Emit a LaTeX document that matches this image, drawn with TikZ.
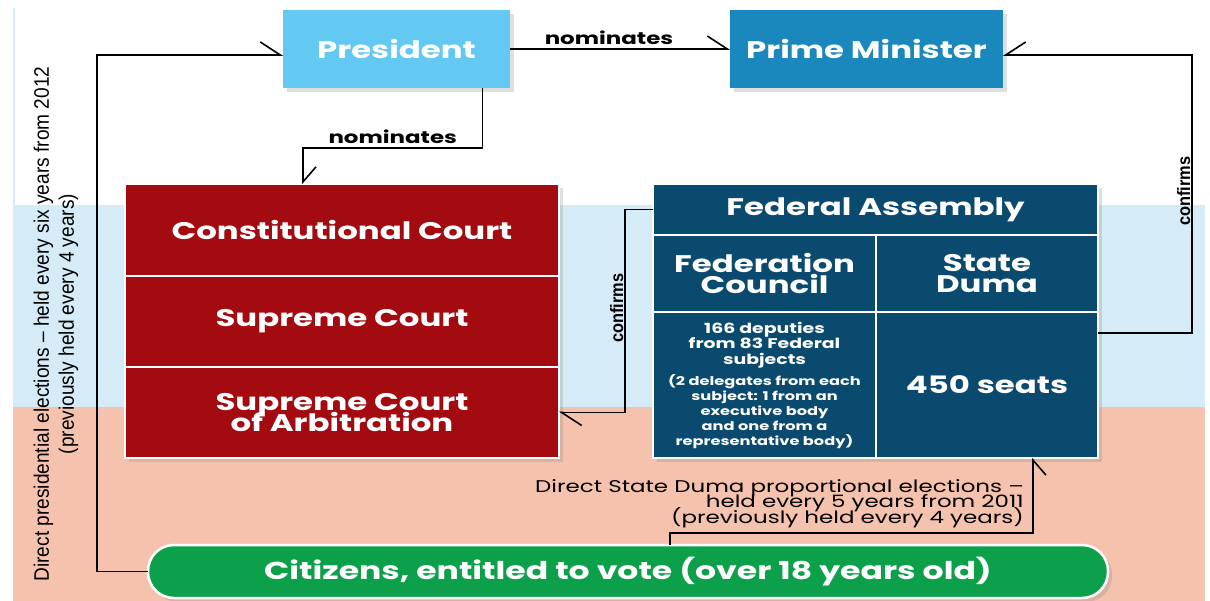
\documentclass[tikz,border=0pt]{standalone}
\usepackage{fontspec}
\usepackage{tikz}
\usetikzlibrary{positioning, arrows.meta, shadows}

\setmainfont{Poppins}[FakeStretch=1.35]
\newfontfamily\narrowfont{Liberation Sans}[FakeStretch=0.91]
\newcommand\tightlines{\setlength{\lineskiplimit}{-30pt}}

\definecolor{presblue}{HTML}{63C8F2}
\definecolor{pmblue}{HTML}{1A87BD}
\definecolor{courtred}{HTML}{A30B10}
\definecolor{fedblue}{HTML}{0B4A6F}
\definecolor{citgreen}{HTML}{0DA04A}
\definecolor{bandblue}{HTML}{D5ECF8}
\definecolor{bandpeach}{HTML}{F5C3AD}

\tikzset{
  office/.style={rectangle, inner sep=0pt, outer sep=0pt, text=white,
    font=\bfseries\fontsize{24}{20.5}\selectfont\tightlines,
    drop shadow={opacity=0.25, shadow xshift=4pt, shadow yshift=-4pt}},
  presbox/.style={office, fill=presblue},
  pmbox/.style={office, fill=pmblue},
  courtcell/.style={office, fill=courtred, draw=white, line width=1.5pt,
    minimum width=434, align=center},
  fedcell/.style={office, fill=fedblue, draw=white, line width=1.5pt, align=center},
  citbox/.style={office, fill=citgreen, draw=white, line width=2.5pt, rounded corners=26pt,
    font=\bfseries\fontsize{24.5}{26}\selectfont},
  conn/.style={draw=black, line width=1.6pt},
  tipleft/.style={-{Straight Barb[left, length=#1, width=26pt]}},
  tipleft/.default=20pt,
  tipright/.style={-{Straight Barb[right, length=#1, width=26pt]}},
  tipright/.default=20pt,
  lbl/.style={inner sep=1pt, font=\bfseries\fontsize{17}{18}\selectfont},
  lblnarrow/.style={inner sep=1pt, font=\narrowfont\bfseries\fontsize{18}{20}\selectfont},
  votenote/.style={inner sep=0pt, font=\fontsize{17}{15.5}\selectfont\tightlines}
}

\begin{document}
\begin{tikzpicture}[x=1pt, y=-1pt]
  \useasboundingbox (0,0) rectangle (1210,601);

  % background bands
  \fill[white] (0,0) rectangle (1210,601);
  \fill[bandblue] (13,205) rectangle (1205,407);
  \fill[bandpeach] (13,407) rectangle (1205,601);
  \draw[bandblue, line width=1.5pt] (13.75,8) -- (13.75,205);

  % executive
  \node[presbox, minimum width=227, minimum height=78, anchor=north west] (pres) at (283,10) {President};
  \node[pmbox, minimum width=273, minimum height=78, anchor=north west] (pm) at (730,10) {Prime Minister};

  % courts
  \node[courtcell, minimum height=92, anchor=north west] (cc) at (125,184) {\raisebox{-8pt}{Constitutional Court}};
  \node[courtcell, minimum height=91, below=0pt of cc] (sc) {Supreme Court};
  \node[courtcell, minimum height=91, below=0pt of sc] (sca) {Supreme Court\\of Arbitration};

  % federal assembly
  \node[fedcell, minimum width=445, minimum height=51, anchor=north west] (fa) at (653,184) {Federal Assembly};
  \node[fedcell, minimum width=223, minimum height=77, anchor=north west] (fc) at (fa.south west) {Federation\\Council};
  \node[fedcell, minimum width=222, minimum height=77, anchor=north west] (sd) at (fc.north east) {State\\Duma};
  \node[fedcell, minimum width=223, minimum height=146, anchor=north west] (fcinfo) at (fc.south west)
    {\parbox{215pt}{\centering\fontsize{14}{15.5}\selectfont 166 deputies\\from 83 Federal\\subjects\par
     \vspace{6pt}\fontsize{12}{15}\selectfont (2 delegates from each\\subject: 1 from an\\executive body\\and one from a\\representative body)\par}};
  \node[fedcell, minimum width=222, minimum height=146, anchor=north west] (sdinfo) at (sd.south west) {450 seats};

  % voters
  \node[citbox, minimum width=960, minimum height=53, anchor=north west] (cit) at (148,545)
    {Citizens, entitled to vote (over 18 years old)};

  \node[votenote, anchor=north east, align=right] (dumavote) at (1024,479)
    {Direct State Duma proportional elections –\\held every 5 years from 2011\\(previously held every 4 years)};
  \node[inner sep=0pt, rotate=90, align=center, font=\narrowfont\fontsize{21}{25}\selectfont] (presvote) at (56,324)
    {Direct presidential elections – held every six years from 2012\\(previously held every 4 years)};

  % connectors
  \draw[conn, tipleft] (cit.west) -- ++(-51,0) |- ([yshift=-6pt]pres.west);
  \draw[conn, tipleft] (pres.east) -- node[lbl, above=3pt, pos=0.45] (nomtop) {nominates} (pm.west);
  \draw[conn, tipleft=15pt] ([xshift=86pt]pres.south) -- ++(0,60)
    -| node[lbl, above=3pt, pos=0.25] (nommid) {nominates} ([xshift=-39pt]cc.north);
  \draw[conn, tipleft] (fa.west) -- ++(-28,0)
    |- node[lblnarrow, rotate=90, above=3pt, pos=0.25] (confl) {confirms} (sca.east);
  \draw[conn, tipright] ([yshift=52pt]sdinfo.east) -- ++(94,0)
    |- node[lblnarrow, rotate=90, above=3pt, pos=0.25] (confr) {confirms} ([yshift=-6pt]pm.east);
  \draw[conn, tipright=15pt] ([xshift=42pt]cit.north) -- ++(0,-12) -| ([xshift=46pt]sdinfo.south);
\end{tikzpicture}
\end{document}
